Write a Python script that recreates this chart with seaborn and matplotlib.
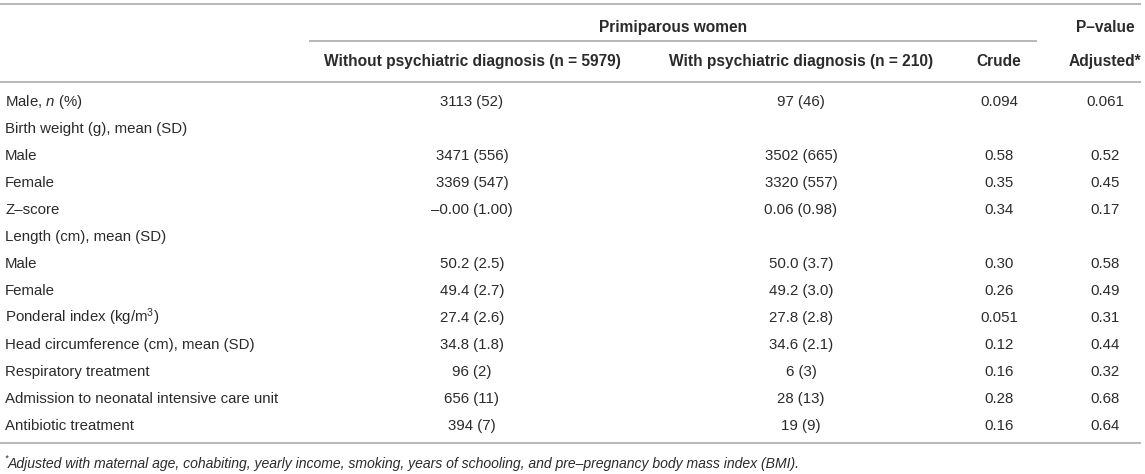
import matplotlib
matplotlib.use("Agg")
import matplotlib.pyplot as plt
import seaborn as sns
import pandas as pd

# ---------------- data ----------------
group_title = "Primiparous women"
pvalue_title = "P–value"
col_headers = ["Without psychiatric diagnosis (n = 5979)",
               "With psychiatric diagnosis (n = 210)",
               "Crude", "Adjusted*"]
row_labels = ["Male, $n$ (%)",
              "Birth weight (g), mean (SD)",
              "Male",
              "Female",
              "Z–score",
              "Length (cm), mean (SD)",
              "Male",
              "Female",
              "Ponderal index (kg/m$^{3}$)",
              "Head circumference (cm), mean (SD)",
              "Respiratory treatment",
              "Admission to neonatal intensive care unit",
              "Antibiotic treatment"]
without_diag = ["3113 (52)", "", "3471 (556)", "3369 (547)", "–0.00 (1.00)", "",
                "50.2 (2.5)", "49.4 (2.7)", "27.4 (2.6)", "34.8 (1.8)",
                "96 (2)", "656 (11)", "394 (7)"]
with_diag = ["97 (46)", "", "3502 (665)", "3320 (557)", "0.06 (0.98)", "",
             "50.0 (3.7)", "49.2 (3.0)", "27.8 (2.8)", "34.6 (2.1)",
             "6 (3)", "28 (13)", "19 (9)"]
p_crude = ["0.094", "", "0.58", "0.35", "0.34", "",
           "0.30", "0.26", "0.051", "0.12", "0.16", "0.28", "0.16"]
p_adjusted = ["0.061", "", "0.52", "0.45", "0.17", "",
              "0.58", "0.49", "0.31", "0.44", "0.32", "0.68", "0.64"]
footnote = ("Adjusted with maternal age, cohabiting, yearly income, smoking, "
            "years of schooling, and pre–pregnancy body mass index (BMI).")

table = pd.DataFrame({"label": row_labels, "without": without_diag,
                      "with": with_diag, "crude": p_crude, "adjusted": p_adjusted})

# ---------------- style ----------------
sns.set_theme(style="white")
plt.rcParams["font.family"] = ["Liberation Sans", "DejaVu Sans"]
plt.rcParams["mathtext.fontset"] = "custom"
plt.rcParams["mathtext.rm"] = "Liberation Sans"
plt.rcParams["mathtext.it"] = "Liberation Sans:italic"
plt.rcParams["mathtext.bf"] = "Liberation Sans:bold"

W, H = 1145, 474
fig = plt.figure(figsize=(W / 100, H / 100), dpi=100)
ax = fig.add_axes([0, 0, 1, 1])
ax.set_xlim(0, W)
ax.set_ylim(H, 0)
ax.axis("off")

txt_color = "#2b2b2b"
line_color = "#b8b8b8"
fs = 10.8
fs_head = 11.2
fs_note = 10.1
base_off = 5.3  # baseline offset from visual centre (px)

# layout (pixels)
label_x = 5
col_x = [472, 801, 999, 1105]
line_x0, line_x1 = 0, 1141
sub_x0, sub_x1 = 309, 1037
y_top, y_sub, y_head_line, y_bottom = 4, 41, 82, 443
y_group, y_head = 27, 61
y_first, dy = 101, 27.0
y_note = 463

def t(x, y, s, ha="center", weight="normal", size=fs, style="normal"):
    ax.text(x, y + base_off * size / fs, s, ha=ha, va="baseline", fontsize=size,
            fontweight=weight, fontstyle=style, color=txt_color)

# rules
lw = 1.4
for (x0, x1, y) in [(line_x0, line_x1, y_top), (sub_x0, sub_x1, y_sub),
                    (line_x0, line_x1, y_head_line), (line_x0, line_x1, y_bottom)]:
    ax.plot([x0, x1], [y, y], color=line_color, lw=lw, solid_capstyle="butt")

# headers
t((sub_x0 + sub_x1) / 2, y_group, group_title, weight="bold", size=fs_head)
t(col_x[3], y_group, pvalue_title, weight="bold", size=fs_head)
for x, h in zip(col_x, col_headers):
    t(x, y_head, h, weight="bold", size=fs_head)

# body
for i, row in table.iterrows():
    y = y_first + i * dy
    t(label_x, y, row["label"], ha="left")
    for x, key in zip(col_x, ["without", "with", "crude", "adjusted"]):
        if row[key]:
            t(x, y, row[key])

# footnote
ax.text(label_x - 1, y_note - 2.5, "*", ha="left", va="baseline", fontsize=6.5,
        fontstyle="italic", color=txt_color)
t(label_x + 3, y_note, footnote, ha="left", size=fs_note, style="italic")

fig.savefig("out.png", dpi=100, facecolor="white")
